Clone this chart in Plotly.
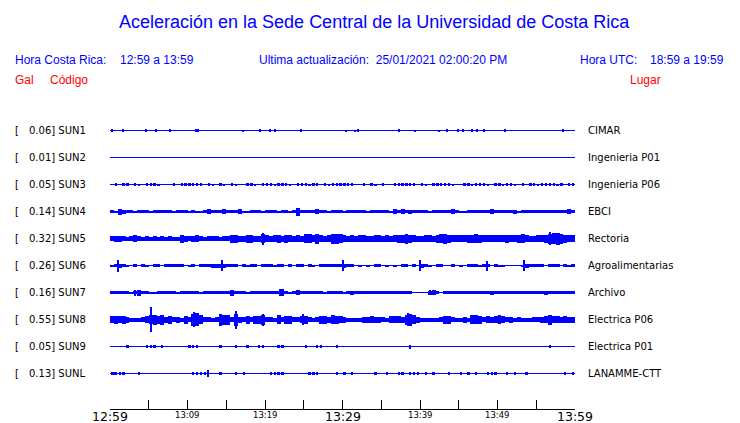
import plotly.graph_objects as go

# ---------------- data ----------------
stations = ["SUN1", "SUN2", "SUN3", "SUN4", "SUN5", "SUN6", "SUN7", "SUN8", "SUN9", "SUNL"]
peak_gal = ["0.06", "0.01", "0.05", "0.14", "0.32", "0.26", "0.16", "0.55", "0.05", "0.13"]
places = ["CIMAR", "Ingenieria P01", "Ingenieria P06", "EBCI", "Rectoria",
          "Agroalimentarias", "Archivo", "Electrica P06", "Electrica P01", "LANAMME-CTT"]

tick_minutes = [0, 5, 10, 15, 20, 25, 30, 35, 40, 45, 50, 55, 60]
tick_labels = ["12:59", "", "13:09", "", "13:19", "", "13:29", "", "13:39", "", "13:49", "", "13:59"]
major_labels = ["12:59", "13:29", "13:59"]

# envelope half-amplitude (pixels) in 30-second bins, 12:59 -> 13:59 (120 bins)
env_SUN3 = [0, 1.3, 0, 1.3, 1.3, 0, 1.3, 1, 0, 1.3,
            1.5, 1.5, 1, 0, 0, 0, 1.3, 0, 1.3, 1.3,
            1.3, 1.5, 1.5, 1.3, 0, 1.3, 1, 0, 1.3, 1,
            0, 1.3, 1, 0, 0, 1.3, 1.3, 1, 0, 1.3,
            1.3, 1.3, 1, 1.3, 1.5, 1.5, 1, 0, 1.3, 1.3,
            1.3, 1, 1.3, 1.3, 0, 1.3, 1, 1.3, 1.3, 1.5,
            1.5, 1.3, 1.3, 0, 0, 1.3, 0, 1.3, 1, 0,
            1.3, 0, 0, 1.3, 1.5, 1.3, 1.3, 1.3, 1.3, 0,
            1.3, 1, 0, 1.3, 1.3, 1.5, 1.3, 1.3, 1, 0,
            0, 1.3, 1.3, 1, 1.5, 1.3, 1.3, 1, 0, 1.3,
            1.3, 1, 1.3, 1.3, 1, 0, 1.3, 0, 1.3, 1.3,
            1, 1.3, 1.5, 1.5, 1.3, 1, 1.3, 0, 1.3, 1.3]
env_SUN4 = [1.5, 1, 3, 2, 1.5, 1.5, 1, 1.5, 1.5, 1.5,
            1, 1.5, 1.5, 1.5, 1.5, 1.5, 1, 1.5, 1.5, 1.5,
            1, 1.5, 1, 1, 1.5, 2.5, 1.5, 1.5, 1.5, 2.5,
            1.5, 1.5, 1.5, 2.5, 1, 1, 1.5, 1.5, 1.5, 1,
            1.5, 1.5, 1.5, 1, 1.5, 1.5, 1, 1.5, 4, 1.5,
            1.5, 1.5, 1.5, 2.5, 1.5, 1.5, 1, 1.5, 1.5, 1.5,
            1, 1.5, 1.5, 1.5, 1.5, 1.5, 1, 1.5, 1.5, 1.5,
            1.5, 1.5, 1, 2.5, 1.5, 2.5, 1.5, 2, 1.5, 1.5,
            1.5, 1.5, 1, 1.5, 1.5, 1.5, 1.5, 1.5, 2.5, 1.5,
            1, 1, 1.5, 1.5, 1.5, 1.5, 1.5, 1.5, 2.5, 1.5,
            1.5, 1.5, 1.5, 1.5, 2, 1, 1.5, 1.5, 1.5, 1.5,
            1.5, 1.5, 1.5, 1.5, 1.5, 1.5, 1.5, 1.5, 2.5, 1.5]
env_SUN5 = [2.5, 3, 3, 2.5, 2, 2.5, 3.5, 2.5, 2, 2.5,
            2, 2.5, 2, 2.5, 2, 2.5, 2, 2, 4, 3,
            2.5, 3, 3.5, 2.5, 2, 2.5, 2.5, 2.5, 2, 2.5,
            2.5, 4, 4, 3, 3, 4, 4, 3, 3, 4.5,
            3.5, 3, 3.5, 4, 3, 4, 3.5, 3, 3.5, 3,
            4.5, 4.5, 3.5, 5, 3.5, 3, 3.5, 5, 5, 4.5,
            3.5, 3, 3.5, 3, 3.5, 3.5, 3, 3, 3.5, 3.5,
            3, 3.5, 3, 3.5, 4, 4, 5, 4, 3.5, 3,
            3, 3.5, 3.5, 3, 4, 4.5, 5, 4, 3.5, 3.5,
            3.5, 3.5, 4, 4, 4.5, 4, 3.5, 3.5, 3.5, 3.5,
            3.5, 3.5, 4, 3.5, 3.5, 4, 4.5, 3.5, 3, 3,
            3.5, 3.5, 4, 5, 5.5, 6, 5, 4, 3.5, 3.5]
env_SUN6 = [1, 1.5, 2, 1.5, 1, 0, 1.5, 0, 1.5, 1,
            0, 1.5, 1.5, 0, 1.5, 1.5, 1.5, 1.5, 1.5, 0,
            1, 1.5, 0, 1.5, 1.5, 1.5, 2, 2, 2, 2,
            1.5, 1.5, 1.5, 0, 1.5, 1, 1.5, 1.5, 0, 1.5,
            1.5, 1.5, 1, 1.5, 1.5, 0, 1.5, 0, 1.5, 1.5,
            0, 1.5, 1, 0, 1.5, 1.5, 1.5, 1.5, 1.5, 1.5,
            2, 1.5, 1.5, 0, 1, 0, 1, 0, 1.5, 1.5,
            0, 1, 0, 1, 0, 1.5, 1.5, 0, 1.5, 0,
            2, 1.5, 1, 0, 1.5, 1.5, 0, 0, 1.5, 0,
            1, 0, 1.5, 1.5, 1.5, 1, 1.5, 1.5, 0, 1.5,
            1, 1, 0, 0, 0, 0, 1, 2, 1.5, 1.5,
            1.5, 1.5, 0, 1.5, 1.5, 1.5, 0, 1.5, 1, 1.5]
env_SUN7 = [1.5, 1.5, 1.5, 1.5, 1.5, 1, 1.5, 3, 1.5, 1.5,
            1, 1, 1.5, 1.5, 1.5, 1.5, 1.5, 1, 1.5, 1.5,
            1.5, 1.5, 1.5, 1, 1.5, 1.5, 1.5, 1.5, 1.5, 1.5,
            1.5, 3, 1.5, 1.5, 1.5, 1, 1.5, 1.5, 1.5, 1.5,
            1.5, 1.5, 1.5, 1.5, 3.5, 1.5, 1, 1.5, 2.5, 1.5,
            1.5, 1.5, 1.5, 1.5, 1.5, 1, 1.5, 1.5, 1.5, 1.5,
            1, 1.5, 2, 1.5, 1.5, 1.5, 1.5, 1.5, 1.5, 1.5,
            1.5, 1.5, 1.5, 1.5, 1.5, 1.5, 1.5, 1.5, 0.5, 0.5,
            0.5, 0.5, 2, 2.5, 1.5, 0.5, 1.5, 1.5, 1.5, 1.5,
            1.5, 1.5, 1.5, 1.5, 1.5, 1.5, 1.5, 1.5, 2, 1.5,
            1.5, 1.5, 1.5, 1.5, 1.5, 1.5, 1.5, 1.5, 1.5, 1.5,
            1.5, 1.5, 2, 1.5, 1.5, 1.5, 1.5, 1.5, 1.5, 1.5]
env_SUN8 = [3.5, 4, 3.5, 4, 3, 2, 2, 2, 2.5, 3.5,
            4.5, 5, 4, 5, 3, 4, 2.5, 3, 2, 4,
            2.5, 6, 6.5, 4.5, 2.5, 2.5, 2, 2.5, 6, 5,
            5, 2.5, 6, 3, 2.5, 4, 2.5, 4, 4, 5,
            2.5, 2.5, 2, 4.5, 2.5, 4, 4, 2.5, 2.5, 3.5,
            4, 2.5, 2, 2.5, 4, 4, 3, 4.5, 4, 3.5,
            3, 2, 2, 2, 2, 3, 3, 3.5, 3, 3,
            2.5, 2, 3.5, 3.5, 3.5, 3, 5, 6, 4.5, 3,
            2, 2, 2, 2, 2, 2.5, 4, 4, 2.5, 2,
            2, 3, 2, 4.5, 4.5, 4, 2.5, 3.5, 3, 3.5,
            4.5, 3.5, 2.5, 3, 2, 2.5, 2, 2, 2, 2.5,
            2.5, 3, 3.5, 5, 3.5, 3.5, 3, 3.5, 3, 3]
env_SUN9 = [0, 0, 0, 0, 1.2, 0, 0, 0, 0, 1.2,
            1.2, 1.2, 0, 1.2, 0, 0, 0, 0, 0, 0,
            1.2, 1.5, 1.2, 0, 0, 0, 0, 0, 1.5, 0,
            0, 0, 1.5, 0, 0, 1.2, 0, 0, 1.2, 1.2,
            0, 0, 0, 1.2, 1.2, 0, 0, 0, 0, 0,
            1.2, 0, 0, 1.2, 1.2, 0, 0, 0, 1.2, 0,
            0, 0, 0, 0, 0, 0, 0, 0, 0, 0,
            0, 0, 0, 0, 0, 0, 0, 2, 0, 0,
            0, 0, 0, 0, 0, 0, 0, 0, 0, 0,
            0, 0, 0, 0, 0, 0, 0, 0, 0, 0,
            0, 0, 0, 0, 0, 0, 0, 0, 0, 0,
            0, 0, 0, 1.2, 0, 0, 0, 0, 0, 0]
env_SUNL = [1.5, 1.5, 1.5, 1.5, 0, 0, 0, 1.2, 0, 0,
            0, 0, 0, 0, 0, 0, 0, 0, 0, 0,
            0, 1.2, 1.2, 1.2, 1.2, 0, 0, 0, 1.2, 0,
            0, 0, 1.2, 0, 1.2, 0, 0, 0, 0, 0,
            0, 1.2, 1.5, 1.5, 1.5, 0, 0, 0, 0, 0,
            0, 1.2, 1.5, 1.5, 0, 0, 0, 0, 1.2, 0,
            1.2, 0, 1.5, 0, 0, 0, 0, 0, 1.2, 0,
            0, 1.2, 0, 0, 1.2, 1.2, 0, 1.2, 1.2, 1.2,
            0, 1.2, 0, 1.2, 0, 0, 0, 1.2, 0, 0,
            1.2, 0, 1.2, 0, 1.2, 0, 0, 1.2, 1.2, 1.2,
            0, 0, 1.2, 0, 1.5, 0, 0, 1.2, 0, 0,
            0, 0, 0, 0, 0, 0, 0, 1.2, 0, 1.2]

# narrow spikes: [minute after 12:59, half-amplitude in pixels]
spikes_SUN1 = [[0.3, 1.7], [1.7, 1.7], [4.6, 1.7], [5.9, 1.7], [7.7, 1.7], [11.1, 1.5],
               [11.4, 1.5], [17.2, 1.0], [19.4, 1.5], [20.7, 1.5], [21.3, 1.5], [24.6, 1.5],
               [30.4, 1.0], [31.6, 1.0], [32.0, 1.5], [37.3, 1.5], [39.3, 1.0], [42.4, 1.0],
               [43.5, 1.5], [44.9, 1.5], [45.6, 1.5], [46.7, 1.5], [47.4, 1.5], [48.3, 1.5],
               [51.0, 1.5], [58.5, 1.5]]
spikes_SUN5 = [[19.7, 6.0], [56.8, 6.5]]
spikes_SUN6 = [[1.1, 6.0], [14.5, 5.5], [30.1, 5.5], [40.0, 5.5], [48.6, 5.0], [53.4, 5.5]]
spikes_SUN7 = [[3.2, 3.0], [15.6, 3.0], [22.0, 3.5], [41.3, 2.5]]
spikes_SUN8 = [[5.3, 12.5], [10.9, 7.5], [16.2, 9.0], [19.7, 6.0], [24.9, 5.5], [38.5, 6.5]]
spikes_SUNL = [[12.7, 3.5], [0.5, 1.5]]

envelopes = {"SUN3": env_SUN3, "SUN4": env_SUN4, "SUN5": env_SUN5, "SUN6": env_SUN6,
             "SUN7": env_SUN7, "SUN8": env_SUN8, "SUN9": env_SUN9, "SUNL": env_SUNL}
spikes = {"SUN1": spikes_SUN1, "SUN5": spikes_SUN5, "SUN6": spikes_SUN6,
          "SUN7": spikes_SUN7, "SUN8": spikes_SUN8, "SUNL": spikes_SUNL}

# ---------------- styling / layout ----------------
BLUE = "#0000FF"
RED = "#FF0000"
ROW_PX = 27.0          # pixel spacing between traces
BIN_MIN = 0.5          # envelope bin width in minutes
sparse = {"SUN3": 0.3, "SUN9": 0.3, "SUNL": 0.3}

L, R, T, B = 110, 165, 110, 14
W, H = 740, 423
PW, PH = W - L - R, H - T - B
Y0_PX = 130.5  # pixel row (centre) of first trace


def px_x(px):
    return (px - L) / PW


def px_y(py):
    return (H - B - py) / PH


y_top = (Y0_PX - T) / ROW_PX
y_bot = -(H - B - Y0_PX) / ROW_PX

fig = go.Figure()

bx, bbase, bh, bw = [], [], [], []
for i, st in enumerate(stations):
    off = -i
    fig.add_trace(go.Scatter(x=[0, 60], y=[off, off], mode="lines",
                             line=dict(color=BLUE, width=1), hoverinfo="skip"))
    if st in envelopes:
        wid = sparse.get(st, BIN_MIN)
        for k, a in enumerate(envelopes[st]):
            if a <= 0:
                continue
            h = a / ROW_PX
            bx.append(k * BIN_MIN + BIN_MIN / 2)
            bbase.append(off - h)
            bh.append(2 * h)
            bw.append(wid)
    for t, a in spikes.get(st, []):
        h = a / ROW_PX
        bx.append(t)
        bbase.append(off - h)
        bh.append(2 * h)
        bw.append(0.14)

fig.add_trace(go.Bar(x=bx, y=bh, base=bbase, width=bw,
                     marker=dict(color=BLUE, line=dict(width=0)), hoverinfo="skip"))

fig.update_layout(
    width=W, height=H, margin=dict(l=L, r=R, t=T, b=B),
    paper_bgcolor="white", plot_bgcolor="white", showlegend=False,
    barmode="overlay", bargap=0,
    xaxis=dict(range=[0, 60], tickvals=tick_minutes, showticklabels=False,
               ticks="inside", ticklen=9, tickcolor="black", tickwidth=1,
               showline=True, linecolor="black", linewidth=1,
               showgrid=False, zeroline=False, automargin=False, fixedrange=True),
    yaxis=dict(range=[y_bot, y_top], visible=False, fixedrange=True),
)

ann = []
# time tick labels (drawn as text at the tick positions)
for tm, lab in zip(tick_minutes, tick_labels):
    if not lab:
        continue
    big = lab in major_labels
    ann.append(dict(text=lab, x=tm, xref="x", y=px_y(416 if big else 414.5), yref="paper",
                    xanchor="center", yanchor="middle",
                    font=dict(family="DejaVu Sans", size=12.5 if big else 8.5, color="black")))

hdr = "Liberation Sans"
ann.append(dict(text="Aceleración en la Sede Central de la Universidad de Costa Rica",
                x=px_x(374), y=px_y(22), xanchor="center", yanchor="middle",
                font=dict(family=hdr, size=18, color=BLUE)))
for txt, xp in [("Hora Costa Rica:", 13), ("12:59 a 13:59", 118),
                ("Ultima actualización:  25/01/2021 02:00:20 PM", 257),
                ("Hora UTC:", 578), ("18:59 a 19:59", 648)]:
    ann.append(dict(text=txt, x=px_x(xp), y=px_y(60), xanchor="left", yanchor="middle",
                    font=dict(family=hdr, size=12, color=BLUE)))
for txt, xp in [("Gal", 13), ("Código", 48), ("Lugar", 628)]:
    ann.append(dict(text=txt, x=px_x(xp), y=px_y(80), xanchor="left", yanchor="middle",
                    font=dict(family=hdr, size=12, color=RED)))

lab_font = dict(family="DejaVu Sans", size=10, color="black")
for i, st in enumerate(stations):
    py = Y0_PX + i * ROW_PX
    ann.append(dict(text="[", x=px_x(13), y=px_y(py), xanchor="left", yanchor="middle",
                    font=lab_font))
    ann.append(dict(text=peak_gal[i] + "] " + st, x=px_x(26.5), y=px_y(py),
                    xanchor="left", yanchor="middle", font=lab_font))
    ann.append(dict(text=places[i], x=px_x(585.5), y=px_y(py), xanchor="left",
                    yanchor="middle", font=lab_font))

for a in ann:
    a.setdefault("xref", "paper")
    a.setdefault("yref", "paper")
    a.update(showarrow=False)
fig.update_layout(annotations=ann)

fig.write_html("out.html", config={"displayModeBar": False},
               post_script="document.body.style.margin='0';document.body.style.overflow='hidden';")
